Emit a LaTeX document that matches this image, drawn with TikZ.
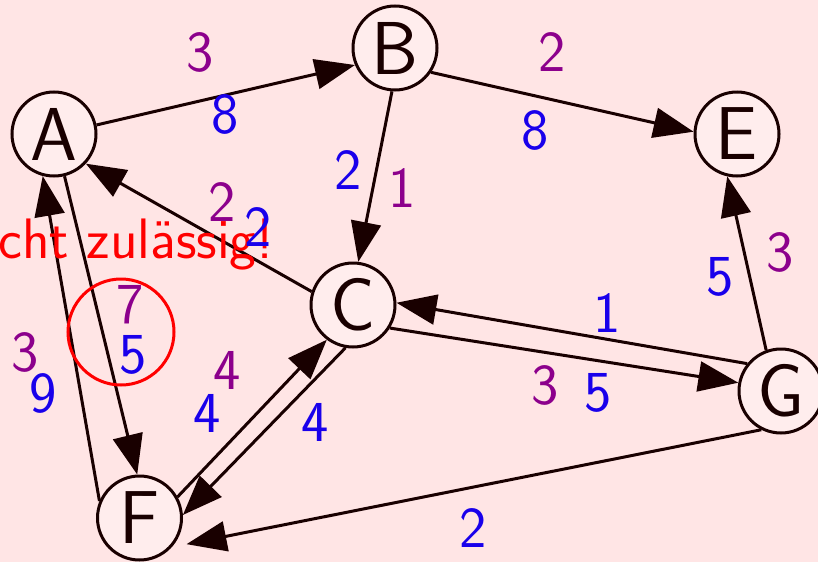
\documentclass[tikz,border=0pt]{standalone}
\usetikzlibrary{arrows.meta}
\definecolor{bg}{RGB}{255,229,229}
\definecolor{nodefill}{RGB}{255,237,237}
\definecolor{labp}{RGB}{140,0,140}
\definecolor{labb}{RGB}{25,0,235}
\definecolor{ink}{RGB}{25,0,0}
\begin{document}
\begin{tikzpicture}[x=1pt,y=-1pt,
  vertex/.style={circle,draw=ink,line width=3pt,fill=nodefill,minimum size=84pt,inner sep=0pt,
    text=ink,font=\sffamily\fontsize{75}{75}\selectfont},
  wp/.style={text=labp,inner sep=0pt,font=\sffamily\fontsize{58}{58}\selectfont},
  wb/.style={text=labb,inner sep=0pt,font=\sffamily\fontsize{58}{58}\selectfont},
  edge/.style={draw=ink,line width=3pt,-{Triangle[length=40pt,width=30pt]}}]
\fill[bg] (0,0) rectangle (818,562);
\useasboundingbox (0,0) rectangle (818,562);
% vertices
\node[vertex] (A) at (54,134) {A};
\node[vertex] (B) at (395,48) {B};
\node[vertex] (E) at (737,134) {E};
\node[vertex] (C) at (353,305) {C};
\node[vertex] (G) at (781,391) {G};
\node[vertex] (F) at (139.5,518) {F};
% edges
\draw[edge] (A.12) -- (B.-157);
\draw[edge] (B.-34) -- (E.177);
\draw[edge] (B.-94) -- (C.83);
\draw[edge] (C.162) -- (A.-43);
\draw[edge] (A.-76) -- (F.93);
\draw[edge] (F.157) -- (A.-105);
\draw[edge] (F.29) -- (C.-127);
\draw[edge] (C.-100) -- (F.4);
\draw[edge] (C.-32) -- (G.169.5);
\draw[edge] (G.141) -- (C.3);
\draw[edge] (G.110) -- (E.-103);
\draw[edge,shorten >=15pt] (G.-117) -- (F.-42);
% red marking
\node[circle,draw=red,line width=3pt,minimum size=106pt,inner sep=0pt] (mark) at (121,332) {};
\node[text=red,inner sep=0pt,anchor=base east,font=\sffamily\fontsize{57}{57}\selectfont] (note) at (274,258) {nicht zulässig!};
% weights
\node[wp] (l1) at (200,52) {3};
\node[wb] (l2) at (225,114) {8};
\node[wp] (l3) at (552,52) {2};
\node[wb] (l4) at (535,130) {8};
\node[wb] (l5) at (348,170) {2};
\node[wp] (l6) at (402,188) {1};
\node[wp] (l7) at (222,202) {2};
\node[wb] (l8) at (258,227) {2};
\node[wp] (l9) at (25,352) {3};
\node[wb] (l10) at (43,393) {9};
\node[wp] (l11) at (130,305) {7};
\node[wb] (l12) at (133,355) {5};
\node[wp] (l13) at (227,370) {4};
\node[wb] (l14) at (207,413) {4};
\node[wb] (l15) at (315,422) {4};
\node[wp] (l16) at (545,385) {3};
\node[wb] (l17) at (598,393) {5};
\node[wb] (l18) at (607,313) {1};
\node[wb] (l19) at (720,277) {5};
\node[wp] (l20) at (780,252) {3};
\node[wb] (l21) at (473,528) {2};
\end{tikzpicture}
\end{document}
